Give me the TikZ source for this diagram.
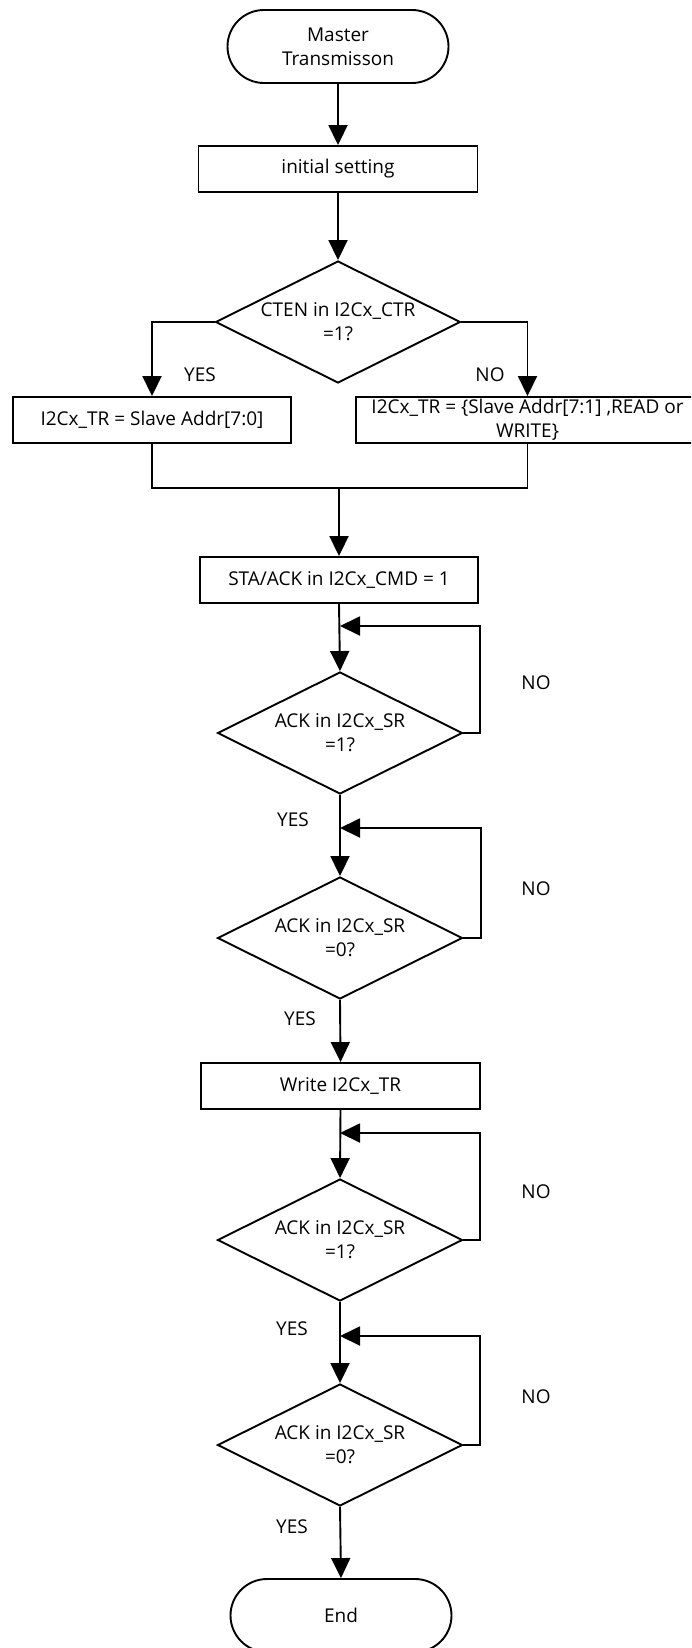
\documentclass[tikz,border=0pt]{standalone}
\usepackage{fontspec}
\setmainfont{Open Sans}
\usetikzlibrary{shapes.geometric,shapes.misc,arrows.meta}
\begin{document}
\begin{tikzpicture}[x=1pt,y=-1pt, line width=1.9pt,
  every node/.style={font=\fontsize{19}{24}\selectfont, inner sep=0pt, align=center},
  term/.style={draw, rounded rectangle, minimum width=221pt, minimum height=73pt},
  proc/.style={draw, rectangle, minimum width=279pt, minimum height=46pt},
  dec/.style={draw, diamond, aspect=2, minimum width=245pt, minimum height=122pt},
  arr/.style={-{Triangle[length=20pt,width=19pt]}}]
\useasboundingbox (0,0) rectangle (691,1648);
\clip (0,0) rectangle (691,1648);

\node[term] (start) at (338,46.5) {Master\\Transmisson};
\node[proc] (init) at (338,169) {initial setting};
\node[dec] (d0) at (338,322) {CTEN in I2Cx\_CTR\\=1?};
\node[proc, minimum width=278pt] (left) at (152,420) {I2Cx\_TR = Slave Addr[7:0]};
\node[proc, minimum width=343pt] (right) at (527.5,420) {I2Cx\_TR = \{Slave Addr[7:1] ,READ or\\WRITE\}};
\coordinate (merge) at (339,488);
\node[proc, minimum width=278pt] (sta) at (339,580) {STA/ACK in I2Cx\_CMD = 1};
\node[dec] (d1) at (340,733) {ACK in I2Cx\_SR\\=1?};
\node[dec] (d2) at (340,938) {ACK in I2Cx\_SR\\=0?};
\node[proc] (write) at (340.5,1086) {Write I2Cx\_TR};
\node[dec] (d3) at (340,1240) {ACK in I2Cx\_SR\\=1?};
\node[dec] (d4) at (340,1445) {ACK in I2Cx\_SR\\=0?};
\node[term] (end) at (341,1615.5) {End};

\coordinate (l1) at (340,626);
\coordinate (l2) at (340,828);
\coordinate (l3) at (340,1133);
\coordinate (l4) at (340,1336);
\coordinate (r1) at (480,626);
\coordinate (r2) at (481,828);
\coordinate (r3) at (480,1133);
\coordinate (r4) at (480,1336);

\draw[arr] (start) -- (init);
\draw[arr] (init) -- (d0);
\draw[arr] (d0.west) -| (left.north);
\draw[arr] (d0.east) -| (right.north);
\draw (left.south) |- (merge) -| (right.south);
\draw[arr] (merge) -- (sta.north);
\draw[arr] (sta.south) -- (d1.north);
\draw[arr] (d1.south) -- (d2.north);
\draw[arr] (d2.south) -- (write.north);
\draw[arr] (write.south) -- (d3.north);
\draw[arr] (d3.south) -- (d4.north);
\draw[arr] (d4.south) -- (end.north);

\draw[arr] (d1.east) -| (r1) -- (l1);
\draw[arr] (d2.east) -| (r2) -- (l2);
\draw[arr] (d3.east) -| (r3) -- (l3);
\draw[arr] (d4.east) -| (r4) -- (l4);

\node (y0) at (200,375) {YES};
\node (n0) at (490,375) {NO};
\node (n1) at (536,683) {NO};
\node (n2) at (536,889) {NO};
\node (n3) at (536,1192) {NO};
\node (n4) at (536,1397) {NO};
\node (y1) at (293,820) {YES};
\node (y2) at (300,1019) {YES};
\node (y3) at (292,1329) {YES};
\node (y4) at (292,1527) {YES};
\end{tikzpicture}
\end{document}
